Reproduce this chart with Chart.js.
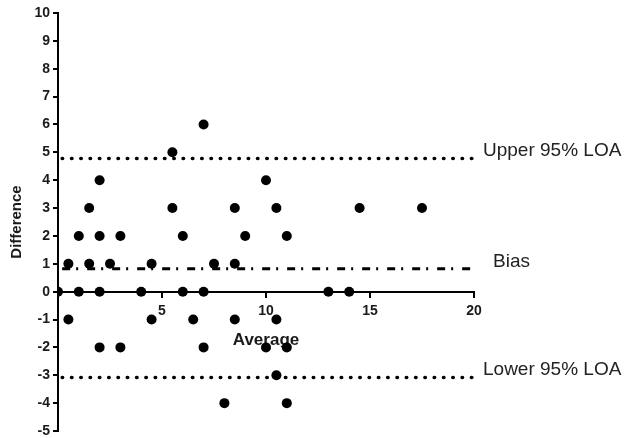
<!DOCTYPE html>
<html>
<head>
<meta charset="utf-8">
<script src="https://cdn.jsdelivr.net/npm/chart.js@4"></script>
<style>
  body { margin: 0; background: #fff; }
</style>
</head>
<body>
<canvas id="chartContainer" width="631" height="438"></canvas>
<script>
"use strict";

// 1: data
// average of the two methods (x) and their difference (y)
const averages = [0, 0.5, 0.5, 1, 1, 1.5, 1.5, 2, 2, 2, 2, 2.5, 3, 3, 4, 4.5, 4.5,
  5.5, 5.5, 6, 6, 6.5, 7, 7, 7, 7.5, 8, 8.5, 8.5, 8.5, 9, 10, 10, 10.5, 10.5, 10.5,
  11, 11, 11, 13, 14, 14.5, 17.5];
const differences = [0, 1, -1, 2, 0, 3, 1, 4, 2, 0, -2, 1, 2, -2, 0, 1, -1,
  5, 3, 2, 0, -1, 6, 0, -2, 1, -4, 3, 1, -1, 2, 4, -2, 3, -1, -3,
  2, -2, -4, 0, 0, 3, 3];

// reference lines
const lineNames = ['Upper 95% LOA', 'Bias', 'Lower 95% LOA'];
const lineValues = [4.78, 0.82, -3.08];

// axis ranges
const xRange = [0, 20];
const yRange = [-5, 10];

// 2: prepare data for chart
function preparePoints(xs, ys) {
  let points = [];
  for (let i = 0; i < xs.length; i++) {
    points.push({ x: xs[i], y: ys[i] });
  }
  return points;
}

function horizontalLine(value) {
  return [{ x: 0.2, y: value }, { x: xRange[1], y: value }];
}

const dotted = [0.5, 8.8];
const dashDot = [8, 6, 2, 9];

// draws the names of the reference lines right of the plot
const lineLabelPlugin = {
  id: 'lineLabels',
  afterDatasetsDraw(chart) {
    const ctx = chart.ctx;
    const yScale = chart.scales.y;
    const right = chart.chartArea.right;
    ctx.save();
    ctx.font = '19px "Liberation Sans", Arial, sans-serif';
    ctx.fillStyle = '#222';
    ctx.textBaseline = 'alphabetic';
    ctx.textAlign = 'left';
    for (let i = 0; i < lineNames.length; i++) {
      const y = yScale.getPixelForValue(lineValues[i]) - 2;
      const x = lineNames[i] === 'Bias' ? right + 19 : right + 9;
      ctx.fillText(lineNames[i], x, y);
    }
    ctx.restore();
  }
};

// 3: create the chart
const tickFont = { family: '"Liberation Sans", Arial, sans-serif', size: 14, weight: 'bold' };

new Chart(document.getElementById('chartContainer'), {
  type: 'scatter',
  data: {
    datasets: [{
        data: preparePoints(averages, differences),
        backgroundColor: '#000',
        borderWidth: 0,
        pointRadius: 5,
        pointHoverRadius: 5
      },
      {
        type: 'line',
        data: horizontalLine(lineValues[0]),
        borderColor: '#000',
        borderWidth: 3.5,
        borderDash: dotted,
        borderCapStyle: 'round',
        pointRadius: 0,
        fill: false
      },
      {
        type: 'line',
        data: horizontalLine(lineValues[1]),
        borderColor: '#000',
        borderWidth: 3,
        borderDash: dashDot,
        pointRadius: 0,
        fill: false
      },
      {
        type: 'line',
        data: horizontalLine(lineValues[2]),
        borderColor: '#000',
        borderWidth: 3.5,
        borderDash: dotted,
        borderCapStyle: 'round',
        pointRadius: 0,
        fill: false
      }
    ]
  },
  options: {
    responsive: false,
    animation: false,
    layout: {
      padding: { top: 13, right: 157, bottom: 7, left: 0 }
    },
    plugins: {
      legend: { display: false },
      tooltip: { enabled: false }
    },
    scales: {
      x: {
        type: 'linear',
        position: { y: 0 },
        min: xRange[0],
        max: xRange[1],
        ticks: {
          stepSize: 5,
          color: '#1a1a1a',
          font: tickFont,
          padding: 6,
          maxRotation: 0,
          callback: (v) => v === 0 ? '' : v
        },
        grid: {
          drawOnChartArea: false,
          tickLength: 5,
          color: '#000',
          lineWidth: 2
        },
        border: { color: '#000', width: 2 },
        title: {
          display: true,
          text: 'Average',
          color: '#1a1a1a',
          font: { family: '"Liberation Sans", Arial, sans-serif', size: 17, weight: 'bold' },
          padding: { top: 5, bottom: 0 }
        }
      },
      y: {
        position: 'left',
        min: yRange[0],
        max: yRange[1],
        afterFit: (scale) => {
          scale.width = 58;
          scale.paddingTop = 0;
          scale.paddingBottom = 0;
        },
        ticks: {
          stepSize: 1,
          color: '#1a1a1a',
          font: tickFont,
          padding: 3
        },
        grid: {
          drawOnChartArea: false,
          tickLength: 5,
          color: '#000',
          lineWidth: 2
        },
        border: { color: '#000', width: 2 },
        title: {
          display: true,
          text: 'Difference',
          color: '#1a1a1a',
          font: { family: '"Liberation Sans", Arial, sans-serif', size: 15, weight: 'bold' },
          padding: { top: 8, bottom: 0 }
        }
      }
    }
  },
  plugins: [lineLabelPlugin]
});
</script>
</body>
</html>
